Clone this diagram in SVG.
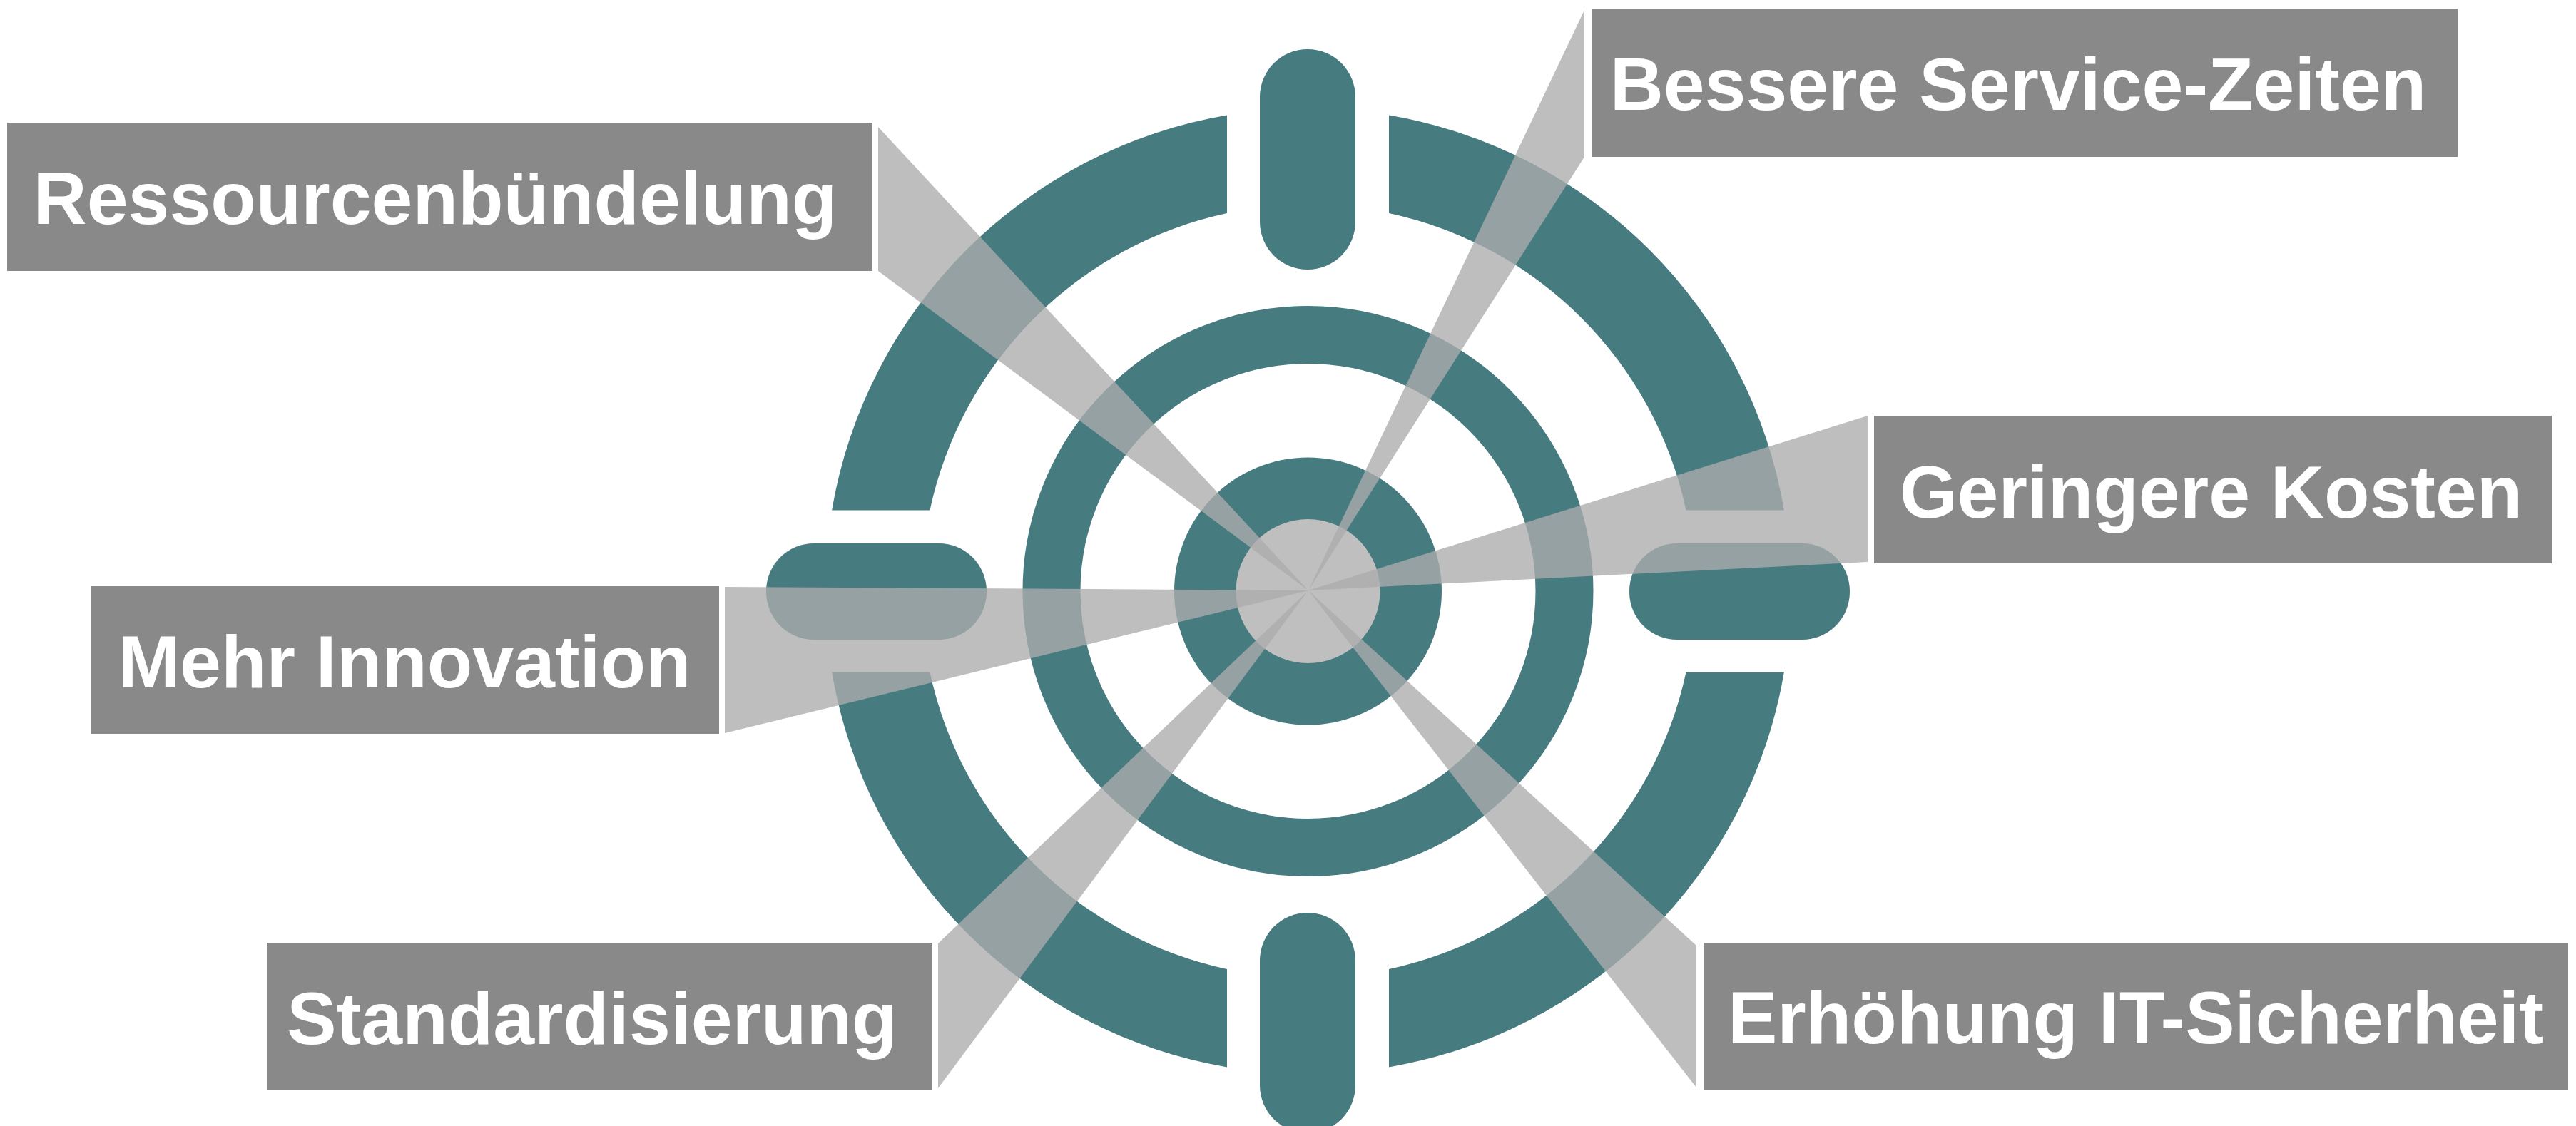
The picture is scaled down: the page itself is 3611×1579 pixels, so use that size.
<svg xmlns="http://www.w3.org/2000/svg" xmlns:xlink="http://www.w3.org/1999/xlink" width="3611" height="1579" viewBox="0 0 3611 1579">
<style>
.teal{fill:#467b80}
.box{fill:#898989}
.lbl{fill:#ffffff;font-family:"Liberation Sans",Arial,Helvetica,sans-serif;font-weight:bold;font-size:104px;text-anchor:middle}
.wedge{fill:#acacac;fill-opacity:0.78}
</style>
<defs>
<path id="arc" d="M1947 161.6 A677 677 0 0 1 2500.9 715.5 L2363.5 715.5 A542 542 0 0 0 1947 299 Z"/>
</defs>
<rect width="3611" height="1579" fill="#ffffff"/>
<g id="target">
<use xlink:href="#arc" class="teal"/>
<use xlink:href="#arc" class="teal" transform="rotate(90 1833.5 829)"/>
<use xlink:href="#arc" class="teal" transform="rotate(180 1833.5 829)"/>
<use xlink:href="#arc" class="teal" transform="rotate(270 1833.5 829)"/>
<rect class="teal" x="1766" y="69" width="134" height="309" rx="67" ry="67"/>
<rect class="teal" x="1766" y="1280" width="134" height="309" rx="67" ry="67"/>
<rect class="teal" x="1074" y="762" width="309" height="135" rx="67" ry="67"/>
<rect class="teal" x="2284" y="762" width="309" height="135" rx="67" ry="67"/>
<circle cx="1833.5" cy="829" r="359.5" fill="none" stroke="#467b80" stroke-width="81"/>
<circle class="teal" cx="1833.5" cy="829" r="187.5"/>
<circle cx="1833.5" cy="829" r="101" fill="#bfbfbf"/>
</g>
<g id="connectors">
<polygon class="wedge" points="1834,828 1231,178 1231,380"/>
<polygon class="wedge" points="1834,828 2221,14 2221,220"/>
<polygon class="wedge" points="1834,828 2618,583 2618,788"/>
<polygon class="wedge" points="1834,828 1016,823 1016,1028"/>
<polygon class="wedge" points="1834,828 1315,1323 1315,1526"/>
<polygon class="wedge" points="1834,828 2378,1326 2378,1525"/>
</g>
<g id="node-ressourcen">
<rect class="box" x="10" y="172" width="1213" height="208"/>
<text class="lbl" x="610" y="314">Ressourcenbündelung</text>
</g>
<g id="node-service">
<rect class="box" x="2232" y="12" width="1213" height="208"/>
<text class="lbl" x="2829" y="154">Bessere Service-Zeiten</text>
</g>
<g id="node-kosten">
<rect class="box" x="2627" y="583" width="950" height="207"/>
<text class="lbl" x="3099" y="726">Geringere Kosten</text>
</g>
<g id="node-innovation">
<rect class="box" x="128" y="822" width="880" height="207"/>
<text class="lbl" x="567" y="964">Mehr Innovation</text>
</g>
<g id="node-standard">
<rect class="box" x="374" y="1322" width="932" height="206"/>
<text class="lbl" x="830" y="1464">Standardisierung</text>
</g>
<g id="node-sicherheit">
<rect class="box" x="2388" y="1322" width="1212" height="206"/>
<text class="lbl" x="2994" y="1463">Erhöhung IT-Sicherheit</text>
</g>
</svg>
